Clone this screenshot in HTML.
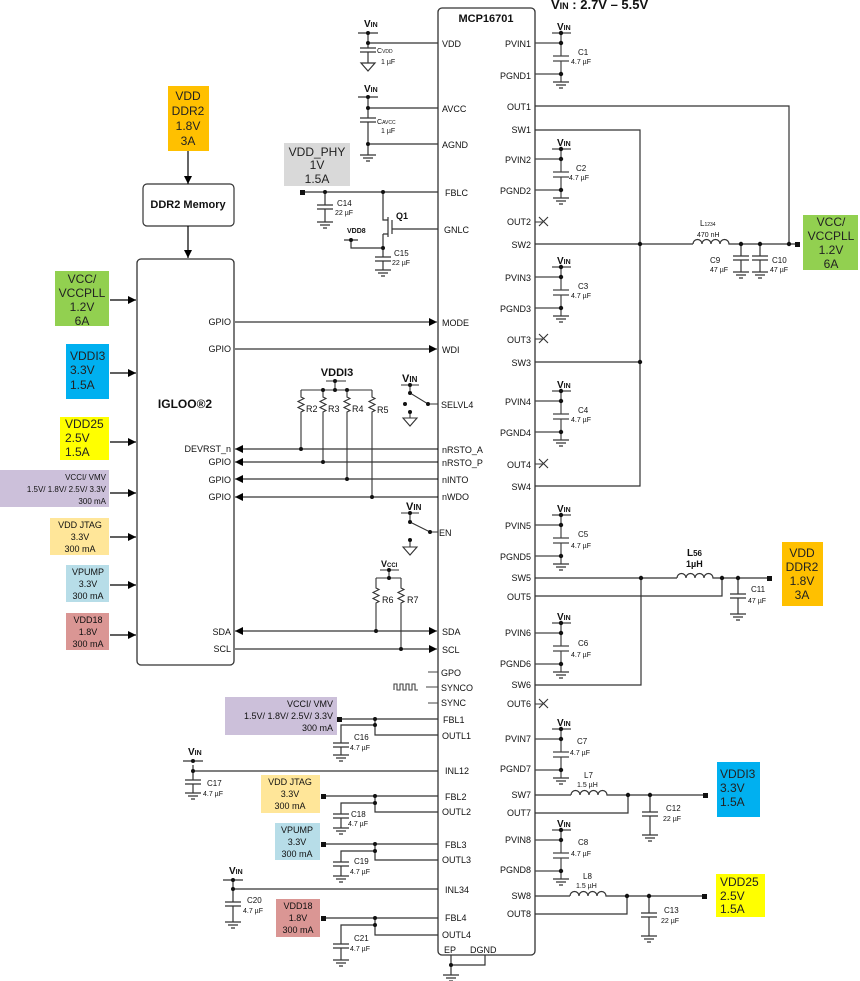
<!DOCTYPE html>
<html><head><meta charset="utf-8"><style>
html,body{margin:0;padding:0;background:#fff}
svg{display:block}
text{font-family:"Liberation Sans",Arial,sans-serif;fill:#111}
.p{font-size:9px}
.b{font-size:12px;fill:#222}
.s{font-size:8px}
.t{font-size:7px}
</style></head><body>
<svg width="860" height="981" viewBox="0 0 860 981" xmlns="http://www.w3.org/2000/svg">
<defs>
<marker id="a" viewBox="0 0 10 10" refX="10" refY="5" markerWidth="10" markerHeight="8" markerUnits="userSpaceOnUse" orient="auto-start-reverse"><path d="M0 0L10 5L0 10z" fill="#000"/></marker>
<g id="g" stroke="#333" stroke-width="1.2"><path d="M-8 0h16M-5 3h10M-2 6h4"/></g>
<g id="cb" stroke="#444" stroke-width="1.2" fill="none">
<path d="M535 0H561M535 31H561M552 -10H571M561 -10V13M561 18V39M553 13H569M553 18H569"/>
<circle cx="561" cy="-10" r="2.2" fill="#111" stroke="none"/><circle cx="561" cy="0" r="2.2" fill="#111" stroke="none"/><circle cx="561" cy="31" r="2.2" fill="#111" stroke="none"/>
<use href="#g" x="561" y="39"/>
</g>
</defs>

<!-- title -->
<text x="551" y="9" font-size="13" font-weight="bold">V<tspan font-size="9">IN</tspan> : 2.7V – 5.5V</text>

<!-- MCP box -->
<rect x="438" y="8" width="97" height="947" rx="4" fill="none" stroke="#333" stroke-width="1.3"/>
<text x="486" y="22" font-size="11" font-weight="bold" text-anchor="middle">MCP16701</text>

<!-- IGLOO box -->
<rect x="137" y="259" width="97" height="406" rx="4" fill="none" stroke="#333" stroke-width="1.3"/>
<text x="185" y="408" font-size="12" font-weight="bold" text-anchor="middle">IGLOO®2</text>

<!-- DDR2 -->
<rect x="168" y="86" width="41" height="65" fill="#ffc000"/>
<text class="b" text-anchor="middle"><tspan x="188" y="100">VDD</tspan><tspan x="188" y="115">DDR2</tspan><tspan x="188" y="130">1.8V</tspan><tspan x="188" y="145">3A</tspan></text>
<rect x="143" y="184" width="91" height="42" rx="4" fill="#fff" stroke="#333" stroke-width="1.2"/>
<text x="188" y="208" font-size="11" font-weight="bold" text-anchor="middle">DDR2 Memory</text>
<g stroke="#000" stroke-width="1.2" marker-end="url(#a)"><path d="M188 151V184"/><path d="M188 226V258"/></g>

<!-- left boxes -->
<rect x="55" y="271" width="54" height="55" fill="#92d050"/>
<text class="b" text-anchor="middle"><tspan x="82" y="283">VCC/</tspan><tspan x="82" y="297">VCCPLL</tspan><tspan x="82" y="311">1.2V</tspan><tspan x="82" y="325">6A</tspan></text>
<rect x="66" y="344" width="43" height="55" fill="#00b0f0"/>
<text class="b"><tspan x="70" y="360">VDDI3</tspan><tspan x="70" y="374">3.3V</tspan><tspan x="70" y="389">1.5A</tspan></text>
<rect x="60" y="417" width="49" height="43" fill="#ffff00"/>
<text class="b"><tspan x="65" y="428">VDD25</tspan><tspan x="65" y="442">2.5V</tspan><tspan x="65" y="456">1.5A</tspan></text>
<rect x="0" y="470" width="109" height="37" fill="#ccc0da"/>
<text class="s" text-anchor="end" font-size="9"><tspan x="106" y="480">VCCI/ VMV</tspan><tspan x="106" y="492">1.5V/ 1.8V/ 2.5V/ 3.3V</tspan><tspan x="106" y="504">300 mA</tspan></text>
<rect x="50" y="518" width="59" height="37" fill="#ffe699"/>
<text font-size="9" text-anchor="middle"><tspan x="80" y="528">VDD JTAG</tspan><tspan x="80" y="540">3.3V</tspan><tspan x="80" y="552">300 mA</tspan></text>
<rect x="66" y="565" width="43" height="37" fill="#b7dde8"/>
<text font-size="9" text-anchor="middle"><tspan x="88" y="575">VPUMP</tspan><tspan x="88" y="587">3.3V</tspan><tspan x="88" y="599">300 mA</tspan></text>
<rect x="66" y="613" width="43" height="37" fill="#da9694"/>
<text font-size="9" text-anchor="middle"><tspan x="88" y="623">VDD18</tspan><tspan x="88" y="635">1.8V</tspan><tspan x="88" y="647">300 mA</tspan></text>
<g stroke="#000" stroke-width="1.2" marker-end="url(#a)">
<path d="M110 300H136"/><path d="M110 373H136"/><path d="M110 442H136"/><path d="M110 493H136"/><path d="M110 537H136"/><path d="M110 585H136"/><path d="M110 635H136"/>
</g>

<!-- IGLOO pin labels -->
<text class="p" text-anchor="end"><tspan x="231" y="325">GPIO</tspan><tspan x="231" y="352">GPIO</tspan><tspan x="231" y="452">DEVRST_n</tspan><tspan x="231" y="465">GPIO</tspan><tspan x="231" y="483">GPIO</tspan><tspan x="231" y="500">GPIO</tspan><tspan x="231" y="635">SDA</tspan><tspan x="231" y="652">SCL</tspan></text>
<g stroke="#000" stroke-width="1.1" fill="none">
<path d="M235 322H437" marker-end="url(#a)"/><path d="M235 349H437" marker-end="url(#a)"/>
<path d="M438 449H235" marker-end="url(#a)"/><path d="M438 462H235" marker-end="url(#a)"/><path d="M438 479H235" marker-end="url(#a)"/><path d="M438 497H235" marker-end="url(#a)"/>
<path d="M235 631H437" marker-start="url(#a)" marker-end="url(#a)"/><path d="M235 649H437" marker-end="url(#a)"/>
</g>

<!-- VDDI3 pullups -->
<text x="337" y="376" font-size="11" font-weight="bold" text-anchor="middle">VDDI3</text>
<g stroke="#333" stroke-width="1.1" fill="none">
<path d="M326 381H346M335 381V390M301 390H372"/>
<path d="M301 390V397l3 1.5l-6 3l6 3l-6 3l6 3l-3 1.5V449"/>
<path d="M323 390V397l3 1.5l-6 3l6 3l-6 3l6 3l-3 1.5V462"/>
<path d="M347 390V397l3 1.5l-6 3l6 3l-6 3l6 3l-3 1.5V479"/>
<path d="M372 390V397l3 1.5l-6 3l6 3l-6 3l6 3l-3 1.5V497"/>
</g>
<g fill="#111"><circle cx="335" cy="381" r="2"/><circle cx="323" cy="390" r="2"/><circle cx="347" cy="390" r="2"/><circle cx="335" cy="390" r="2"/><circle cx="301" cy="449" r="2"/><circle cx="323" cy="462" r="2"/><circle cx="347" cy="479" r="2"/><circle cx="372" cy="497" r="2"/></g>
<text class="p"><tspan x="306" y="412">R2</tspan><tspan x="328" y="412">R3</tspan><tspan x="352" y="412">R4</tspan><tspan x="377" y="413">R5</tspan></text>

<!-- switches -->
<g stroke="#333" stroke-width="1.1" fill="none">
<path d="M401 385H419M410 385V393L428 404H438M410 412V418M403 418h14l-7 8z"/>
<path d="M401 513H419M410 513V522L430 532H438M410 540V547M403 547h14l-7 8z"/>
</g>
<g fill="#111"><circle cx="410" cy="385" r="2"/><circle cx="410" cy="393" r="2"/><circle cx="428" cy="404" r="2"/><circle cx="405" cy="404" r="2"/><circle cx="410" cy="412" r="2"/><circle cx="410" cy="513" r="2"/><circle cx="410" cy="522" r="2"/><circle cx="430" cy="532" r="2"/><circle cx="410" cy="540" r="2"/></g>
<text x="402" y="382" font-size="11" font-weight="bold">V<tspan font-size="8">IN</tspan></text>
<text x="406" y="510" font-size="11" font-weight="bold">V<tspan font-size="8">IN</tspan></text>

<!-- VCCI pullups -->
<text x="381" y="567" font-size="9" font-weight="bold">V<tspan font-size="6">CCI</tspan></text>
<g stroke="#333" stroke-width="1.1" fill="none">
<path d="M380 570H399M389 570V578M376 578H401"/>
<path d="M376 578V588l3 1.5l-6 3l6 3l-6 3l6 3l-3 1.5V631"/>
<path d="M401 578V588l3 1.5l-6 3l6 3l-6 3l6 3l-3 1.5V649"/>
</g>
<g fill="#111"><circle cx="389" cy="570" r="2"/><circle cx="389" cy="578" r="2"/><circle cx="376" cy="631" r="2"/><circle cx="401" cy="649" r="2"/></g>
<text class="p"><tspan x="382" y="603">R6</tspan><tspan x="407" y="603">R7</tspan></text>

<!-- MCP left pin labels -->
<text class="p"><tspan x="442" y="47">VDD</tspan><tspan x="442" y="112">AVCC</tspan><tspan x="442" y="148">AGND</tspan><tspan x="445" y="196">FBLC</tspan><tspan x="444" y="233">GNLC</tspan><tspan x="442" y="326">MODE</tspan><tspan x="442" y="353">WDI</tspan><tspan x="441" y="408">SELVL4</tspan><tspan x="442" y="453">nRSTO_A</tspan><tspan x="442" y="466">nRSTO_P</tspan><tspan x="442" y="483">nINTO</tspan><tspan x="442" y="500">nWDO</tspan><tspan x="439" y="536">EN</tspan><tspan x="442" y="635">SDA</tspan><tspan x="442" y="653">SCL</tspan><tspan x="441" y="676">GPO</tspan><tspan x="441" y="691">SYNCO</tspan><tspan x="441" y="706">SYNC</tspan><tspan x="443" y="723">FBL1</tspan><tspan x="442" y="739">OUTL1</tspan><tspan x="445" y="774">INL12</tspan><tspan x="445" y="800">FBL2</tspan><tspan x="442" y="815">OUTL2</tspan><tspan x="445" y="848">FBL3</tspan><tspan x="442" y="863">OUTL3</tspan><tspan x="445" y="893">INL34</tspan><tspan x="445" y="921">FBL4</tspan><tspan x="442" y="938">OUTL4</tspan><tspan x="444" y="953">EP</tspan><tspan x="470" y="953">DGND</tspan></text>

<!-- MCP right pin labels -->
<text class="p" text-anchor="end"><tspan x="531" y="47">PVIN1</tspan><tspan x="531" y="79">PGND1</tspan><tspan x="531" y="110">OUT1</tspan><tspan x="531" y="133">SW1</tspan><tspan x="531" y="163">PVIN2</tspan><tspan x="531" y="194">PGND2</tspan><tspan x="531" y="225">OUT2</tspan><tspan x="531" y="248">SW2</tspan><tspan x="531" y="281">PVIN3</tspan><tspan x="531" y="312">PGND3</tspan><tspan x="531" y="343">OUT3</tspan><tspan x="531" y="366">SW3</tspan><tspan x="531" y="405">PVIN4</tspan><tspan x="531" y="436">PGND4</tspan><tspan x="531" y="468">OUT4</tspan><tspan x="531" y="490">SW4</tspan><tspan x="531" y="529">PVIN5</tspan><tspan x="531" y="560">PGND5</tspan><tspan x="531" y="581">SW5</tspan><tspan x="531" y="600">OUT5</tspan><tspan x="531" y="636">PVIN6</tspan><tspan x="531" y="667">PGND6</tspan><tspan x="531" y="688">SW6</tspan><tspan x="531" y="707">OUT6</tspan><tspan x="531" y="742">PVIN7</tspan><tspan x="531" y="772">PGND7</tspan><tspan x="531" y="798">SW7</tspan><tspan x="531" y="816">OUT7</tspan><tspan x="531" y="843">PVIN8</tspan><tspan x="531" y="873">PGND8</tspan><tspan x="531" y="899">SW8</tspan><tspan x="531" y="917">OUT8</tspan></text>

<!-- right cap blocks -->
<use href="#cb" y="43"/><use href="#cb" y="159"/><use href="#cb" y="277"/><use href="#cb" y="401"/><use href="#cb" y="525"/><use href="#cb" y="633"/><use href="#cb" y="739"/><use href="#cb" y="840"/>
<g font-size="10" font-weight="bold"><text x="557" y="30">V<tspan font-size="7">IN</tspan></text><text x="557" y="146">V<tspan font-size="7">IN</tspan></text><text x="557" y="264">V<tspan font-size="7">IN</tspan></text><text x="557" y="388">V<tspan font-size="7">IN</tspan></text><text x="557" y="512">V<tspan font-size="7">IN</tspan></text><text x="557" y="620">V<tspan font-size="7">IN</tspan></text><text x="557" y="726">V<tspan font-size="7">IN</tspan></text><text x="557" y="827">V<tspan font-size="7">IN</tspan></text></g>
<g class="t"><text x="578" y="55" font-size="8">C1</text><text x="571" y="64">4.7 µF</text>
<text x="576" y="171" font-size="8">C2</text><text x="569" y="180">4.7 µF</text>
<text x="578" y="289" font-size="8">C3</text><text x="571" y="298">4.7 µF</text>
<text x="578" y="413" font-size="8">C4</text><text x="571" y="422">4.7 µF</text>
<text x="578" y="537" font-size="8">C5</text><text x="571" y="548">4.7 µF</text>
<text x="578" y="646" font-size="8">C6</text><text x="571" y="657">4.7 µF</text>
<text x="577" y="744" font-size="8">C7</text><text x="570" y="755">4.7 µF</text>
<text x="578" y="845" font-size="8">C8</text><text x="571" y="856">4.7 µF</text></g>

<!-- NC crosses -->
<g stroke="#333" stroke-width="1.1"><path d="M535 222H543M539 217l9 9M548 217l-9 9"/><path d="M535 339H543M539 334l9 9M548 334l-9 9"/><path d="M535 464H543M539 459l9 9M548 459l-9 9"/><path d="M535 704H543M539 699l9 9M548 699l-9 9"/></g>

<!-- SW1-4 bus & output -->
<g stroke="#333" stroke-width="1.2" fill="none">
<path d="M535 130H640V486H535M535 362H640M535 244H693M535 106H789V244"/>
<path d="M693 244a4.5 4.5 0 0 1 9 0a4.5 4.5 0 0 1 9 0a4.5 4.5 0 0 1 9 0a4.5 4.5 0 0 1 9 0H797"/>
<path d="M741 244V256M733 256H749M733 260H749M741 260V272M760 244V256M752 256H768M752 260H768M760 260V272"/>
</g>
<use href="#g" x="741" y="272"/><use href="#g" x="760" y="272"/>
<g fill="#111"><circle cx="640" cy="244" r="2.2"/><circle cx="640" cy="362" r="2.2"/><circle cx="741" cy="244" r="2.2"/><circle cx="760" cy="244" r="2.2"/><circle cx="789" cy="244" r="2.2"/><rect x="795" y="242" width="5" height="5"/></g>
<text x="700" y="226" font-size="8">L<tspan font-size="5">1234</tspan></text><text x="697" y="237" class="t">470 nH</text>
<text x="710" y="263" font-size="8">C9</text><text x="710" y="272" class="t">47 µF</text>
<text x="772" y="263" font-size="8">C10</text><text x="770" y="272" class="t">47 µF</text>
<rect x="803" y="215" width="55" height="55" fill="#92d050"/>
<text class="b" text-anchor="middle"><tspan x="831" y="226">VCC/</tspan><tspan x="831" y="240">VCCPLL</tspan><tspan x="831" y="254">1.2V</tspan><tspan x="831" y="268">6A</tspan></text>

<!-- SW5/6 -->
<g stroke="#333" stroke-width="1.2" fill="none">
<path d="M535 578H677M535 685H641V578M535 596H722V578"/>
<path d="M677 578a4.5 4.5 0 0 1 9 0a4.5 4.5 0 0 1 9 0a4.5 4.5 0 0 1 9 0a4.5 4.5 0 0 1 9 0H770"/>
<path d="M738 578V594M730 594H746M730 598H746M738 598V614"/>
</g>
<use href="#g" x="738" y="614"/>
<g fill="#111"><circle cx="641" cy="578" r="2.2"/><circle cx="722" cy="578" r="2.2"/><circle cx="738" cy="578" r="2.2"/><rect x="767" y="576" width="5" height="5"/></g>
<text x="687" y="556" font-size="10" font-weight="bold">L<tspan font-size="8">56</tspan></text><text x="686" y="567" font-size="9" font-weight="bold">1µH</text>
<text x="751" y="592" font-size="8">C11</text><text x="748" y="603" class="t">47 µF</text>
<rect x="782" y="542" width="41" height="64" fill="#ffc000"/>
<text class="b" text-anchor="middle"><tspan x="802" y="557">VDD</tspan><tspan x="802" y="571">DDR2</tspan><tspan x="802" y="585">1.8V</tspan><tspan x="802" y="599">3A</tspan></text>

<!-- SW7 -->
<g stroke="#333" stroke-width="1.2" fill="none">
<path d="M535 795H571M535 813H628V795"/>
<path d="M571 795a4.5 4.5 0 0 1 9 0a4.5 4.5 0 0 1 9 0a4.5 4.5 0 0 1 9 0a4.5 4.5 0 0 1 9 0H706"/>
<path d="M650 795V812M642 812H658M642 816H658M650 816V835"/>
<path d="M535 896H570M535 914H627V896"/>
<path d="M570 896a4.5 4.5 0 0 1 9 0a4.5 4.5 0 0 1 9 0a4.5 4.5 0 0 1 9 0a4.5 4.5 0 0 1 9 0H705"/>
<path d="M649 896V913M641 913H657M641 917H657M649 917V936"/>
</g>
<use href="#g" x="650" y="835"/><use href="#g" x="649" y="936"/>
<g fill="#111"><circle cx="628" cy="795" r="2.2"/><circle cx="650" cy="795" r="2.2"/><rect x="703" y="793" width="5" height="5"/><circle cx="627" cy="896" r="2.2"/><circle cx="649" cy="896" r="2.2"/><rect x="702" y="894" width="5" height="5"/></g>
<text x="584" y="778" font-size="8">L7</text><text x="577" y="787" class="t">1.5 µH</text>
<text x="666" y="811" font-size="8">C12</text><text x="663" y="821" class="t">22 µF</text>
<text x="583" y="879" font-size="8">L8</text><text x="576" y="888" class="t">1.5 µH</text>
<text x="664" y="913" font-size="8">C13</text><text x="661" y="923" class="t">22 µF</text>
<rect x="717" y="762" width="43" height="55" fill="#00b0f0"/>
<text class="b"><tspan x="720" y="778">VDDI3</tspan><tspan x="720" y="792">3.3V</tspan><tspan x="720" y="806">1.5A</tspan></text>
<rect x="716" y="874" width="49" height="43" fill="#ffff00"/>
<text class="b"><tspan x="720" y="886">VDD25</tspan><tspan x="720" y="900">2.5V</tspan><tspan x="720" y="913">1.5A</tspan></text>

<!-- top-left VDD/AVCC -->
<g stroke="#333" stroke-width="1.2" fill="none">
<path d="M358 33H378M368 33V48M360 48H376M360 52H376M368 52V63M361 63h14l-7 8zM368 43H438"/>
<path d="M358 97H378M368 97V118M360 118H376M360 122H376M368 122V155M368 108H438M368 144H438"/>
</g>
<use href="#g" x="368" y="155"/>
<g fill="#111"><circle cx="368" cy="33" r="2"/><circle cx="368" cy="43" r="2"/><circle cx="368" cy="97" r="2"/><circle cx="368" cy="108" r="2"/><circle cx="368" cy="144" r="2"/></g>
<text x="364" y="27" font-size="10" font-weight="bold">V<tspan font-size="7">IN</tspan></text>
<text x="364" y="92" font-size="10" font-weight="bold">V<tspan font-size="7">IN</tspan></text>
<text x="377" y="53" font-size="7">C<tspan font-size="5">VDD</tspan></text><text x="381" y="64" class="t">1 µF</text>
<text x="377" y="124" font-size="7">C<tspan font-size="5">AVCC</tspan></text><text x="381" y="133" class="t">1 µF</text>

<!-- VDD_PHY / FBLC / Q1 -->
<rect x="284" y="143" width="66" height="43" fill="#d9d9d9"/>
<text class="b" text-anchor="middle"><tspan x="317" y="156">VDD_PHY</tspan><tspan x="317" y="169">1V</tspan><tspan x="317" y="183">1.5A</tspan></text>
<g stroke="#333" stroke-width="1.2" fill="none">
<path d="M302 192H438M325 192V205M317 205H333M317 209H333M325 209V222"/>
<path d="M383 192V220H388M383 234H388V234M383 234V257M375 257H391M375 261H391M383 261V270"/>
<path d="M388 217V237M392 220V234M392 229H438"/>
<path d="M344 240H358M351 240V248H383"/>
</g>
<use href="#g" x="325" y="222"/><use href="#g" x="383" y="270"/>
<g fill="#111"><rect x="300" y="190" width="5" height="5"/><circle cx="325" cy="192" r="2"/><circle cx="383" cy="192" r="2"/><circle cx="351" cy="240" r="2"/><circle cx="383" cy="248" r="2"/></g>
<text x="337" y="206" font-size="8">C14</text><text x="335" y="215" class="t">22 µF</text>
<text x="396" y="219" font-size="9" font-weight="bold">Q1</text>
<text x="347" y="233" font-size="7" font-weight="bold">VDD8</text>
<text x="394" y="256" font-size="8">C15</text><text x="392" y="265" class="t">22 µF</text>

<!-- bottom left -->
<g stroke="#444" stroke-width="1.1" fill="none">
<path d="M428 672H438M428 703H438M426 687H438"/>
<path d="M394 690v-6h3v6h3v-6h3v6h3v-6h3v6h3v-6h3v6h3"/>
</g>
<g stroke="#333" stroke-width="1.2" fill="none">
<path d="M340 719H438M375 719V735H438M375 725H341V743M333 743H349M333 747H349M341 747V755"/>
<path d="M193 765V780M185 780H201M185 784H201M193 784V793M183 761H203M193 771H438"/>
<path d="M324 796H438M375 796V812H438M375 803H341V814M333 814H349M333 818H349M341 818V828"/>
<path d="M324 844H438M375 844V860H438M375 851H341V862M333 862H349M333 866H349M341 866V876"/>
<path d="M223 880H243M233 880V902M225 902H241M225 906H241M233 906V922M233 889H438"/>
<path d="M324 918H438M375 918V935H438M375 925H341V944M333 944H349M333 948H349M341 948V960"/>
<path d="M451 955V975M485 955V965H451"/>
</g>
<use href="#g" x="341" y="755"/><use href="#g" x="193" y="793"/><use href="#g" x="341" y="828"/><use href="#g" x="341" y="876"/><use href="#g" x="233" y="922"/><use href="#g" x="341" y="960"/><use href="#g" x="451" y="975"/>
<g fill="#111">
<rect x="337" y="717" width="5" height="5"/><circle cx="375" cy="719" r="2"/><circle cx="375" cy="725" r="2"/>
<circle cx="193" cy="761" r="2"/><circle cx="193" cy="771" r="2"/>
<rect x="321" y="794" width="5" height="5"/><circle cx="375" cy="796" r="2"/><circle cx="375" cy="803" r="2"/>
<rect x="321" y="842" width="5" height="5"/><circle cx="375" cy="844" r="2"/><circle cx="375" cy="851" r="2"/>
<circle cx="233" cy="880" r="2"/><circle cx="233" cy="889" r="2"/>
<rect x="321" y="916" width="5" height="5"/><circle cx="375" cy="918" r="2"/><circle cx="375" cy="925" r="2"/>
<circle cx="451" cy="965" r="2"/>
</g>
<rect x="225" y="697" width="112" height="38" fill="#ccc0da"/>
<text font-size="9" text-anchor="end"><tspan x="333" y="707">VCCI/ VMV</tspan><tspan x="333" y="719">1.5V/ 1.8V/ 2.5V/ 3.3V</tspan><tspan x="333" y="731">300 mA</tspan></text>
<rect x="261" y="775" width="59" height="38" fill="#ffe699"/>
<text font-size="9" text-anchor="middle"><tspan x="290" y="785">VDD JTAG</tspan><tspan x="290" y="797">3.3V</tspan><tspan x="290" y="809">300 mA</tspan></text>
<rect x="275" y="823" width="45" height="37" fill="#b7dde8"/>
<text font-size="9" text-anchor="middle"><tspan x="297" y="833">VPUMP</tspan><tspan x="297" y="845">3.3V</tspan><tspan x="297" y="857">300 mA</tspan></text>
<rect x="276" y="899" width="44" height="38" fill="#da9694"/>
<text font-size="9" text-anchor="middle"><tspan x="298" y="909">VDD18</tspan><tspan x="298" y="921">1.8V</tspan><tspan x="298" y="933">300 mA</tspan></text>
<text x="188" y="755" font-size="10" font-weight="bold">V<tspan font-size="7">IN</tspan></text>
<text x="229" y="874" font-size="10" font-weight="bold">V<tspan font-size="7">IN</tspan></text>
<text x="354" y="740" font-size="8">C16</text><text x="350" y="750" class="t">4.7 µF</text>
<text x="207" y="786" font-size="8">C17</text><text x="203" y="796" class="t">4.7 µF</text>
<text x="351" y="817" font-size="8">C18</text><text x="348" y="826" class="t">4.7 µF</text>
<text x="354" y="864" font-size="8">C19</text><text x="350" y="874" class="t">4.7 µF</text>
<text x="247" y="903" font-size="8">C20</text><text x="243" y="913" class="t">4.7 µF</text>
<text x="354" y="941" font-size="8">C21</text><text x="350" y="951" class="t">4.7 µF</text>
</svg>
</body></html>
